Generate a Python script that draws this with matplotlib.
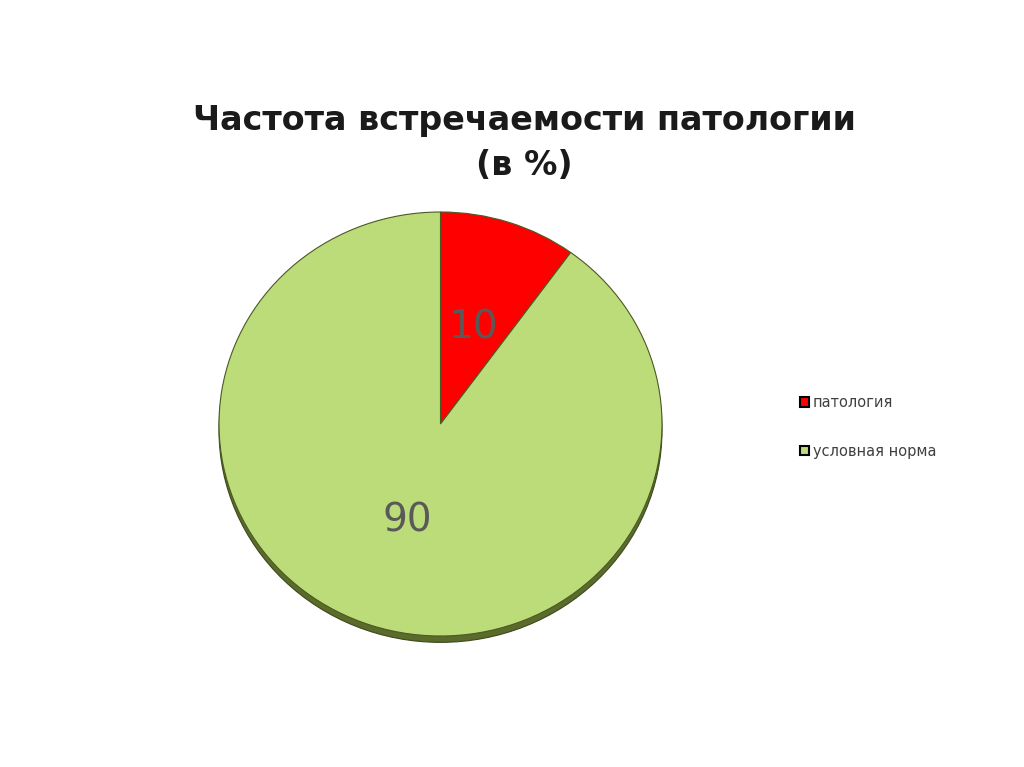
import matplotlib.pyplot as plt
from matplotlib.patches import Ellipse, Patch

# data
categories = ['патология', 'условная норма']
values = [10, 90]
colors = ['#ff0000', '#bcdb79']

fig = plt.figure(figsize=(10.24, 7.67), dpi=100)

# pie axes: face spans x 219..662, y 212..636 px (slightly squashed)
W, H = 1024, 767
left, right, top, bottom = 219, 662, 212, 636
ax = fig.add_axes([left / W, (H - bottom) / H, (right - left) / W, (bottom - top) / H])
ax.axis('off')

# 3d-ish thickness under the pie
ax.add_patch(Ellipse((0, -0.03), 2.0, 2.0, facecolor='#5a6b2c',
                     edgecolor='#3d4a1c', linewidth=0.8, zorder=0, clip_on=False))

wedges, texts = ax.pie(values, colors=colors, startangle=90, counterclock=False,
                       radius=1.0, labels=[str(v) for v in values],
                       labeldistance=0.48,
                       wedgeprops=dict(edgecolor='#4a5a22', linewidth=0.8),
                       textprops=dict(fontsize=28, color='#595959'))
for t in texts:
    t.set_ha('center')
    t.set_va('center')
ax.set_aspect('auto')
ax.set_xlim(-1, 1)
ax.set_ylim(-1, 1)

fig.text(0.512, 1 - 143 / H, 'Частота встречаемости патологии\n(в %)',
         ha='center', va='center', fontsize=24, fontweight='bold',
         color='#1a1a1a', linespacing=1.45)

handles = [Patch(facecolor=c, edgecolor='black', linewidth=1.5) for c in colors]
fig.legend(handles, categories, loc='upper left',
           bbox_to_anchor=(787 / W, 1 - 382 / H), frameon=False,
           fontsize=10.5, handlelength=0.6, handleheight=0.6,
           handletextpad=0.25, labelspacing=2.3, labelcolor='#404040')

fig.savefig('out.png', dpi=100, facecolor='white')
